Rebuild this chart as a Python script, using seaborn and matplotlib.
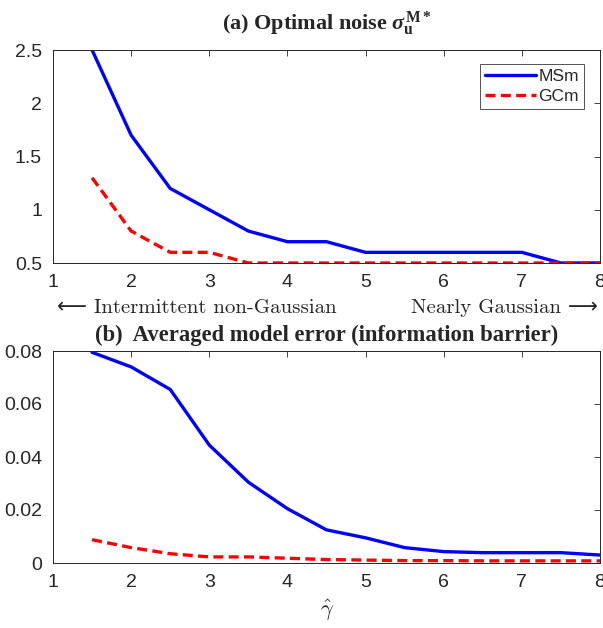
import numpy as np
import pandas as pd
import matplotlib
matplotlib.use("Agg")
import matplotlib.pyplot as plt
import seaborn as sns

gamma = [1.5, 2, 2.5, 3, 3.5, 4, 4.5, 5, 5.5, 6, 6.5, 7, 7.5, 8]
noise_msm = [2.5, 1.7, 1.2, 1.0, 0.8, 0.7, 0.7, 0.6, 0.6, 0.6, 0.6, 0.6, 0.5, 0.5]
noise_gcm = [1.3, 0.8, 0.6, 0.6, 0.5, 0.5, 0.5, 0.5, 0.5, 0.5, 0.5, 0.5, 0.5, 0.5]
err_msm = [0.0795, 0.074, 0.0655, 0.0445, 0.0305, 0.0205, 0.0125, 0.0095,
           0.0058, 0.0043, 0.0039, 0.0039, 0.0039, 0.003]
err_gcm = [0.0088, 0.0058, 0.0035, 0.0023, 0.0023, 0.0018, 0.0013, 0.0011,
           0.0009, 0.0009, 0.0008, 0.0008, 0.0008, 0.0008]
xticks = [1, 2, 3, 4, 5, 6, 7, 8]
yticks_a = [0.5, 1, 1.5, 2, 2.5]
yticks_b = [0, 0.02, 0.04, 0.06, 0.08]

sns.set_style("white")
plt.rcParams['font.family'] = ['Liberation Sans', 'DejaVu Sans']
plt.rcParams['mathtext.fontset'] = 'custom'
plt.rcParams['mathtext.rm'] = 'Liberation Serif:bold'
plt.rcParams['mathtext.bf'] = 'Liberation Serif:bold'
plt.rcParams['mathtext.it'] = 'Liberation Serif:italic:bold'

W, H = 603, 628
fig = plt.figure(figsize=(W / 100, H / 100), dpi=100)
L, R = 53, 600
ax1 = fig.add_axes([L / W, 1 - 263 / H, (R - L) / W, 213 / H])
ax2 = fig.add_axes([L / W, 1 - 563 / H, (R - L) / W, 212 / H])

df_a = pd.DataFrame({
    "gamma": gamma * 2,
    "value": noise_msm + noise_gcm,
    "model": ["MSm"] * len(gamma) + ["GCm"] * len(gamma),
})
df_b = pd.DataFrame({
    "gamma": gamma * 2,
    "value": err_msm + err_gcm,
    "model": ["MSm"] * len(gamma) + ["GCm"] * len(gamma),
})
pal = {"MSm": "#0000ff", "GCm": "#ff0000"}
dashes = {"MSm": "", "GCm": (3, 1.6)}

for ax, df, yt, ylim in [(ax1, df_a, yticks_a, (0.5, 2.5)), (ax2, df_b, yticks_b, (0, 0.08))]:
    sns.lineplot(data=df, x="gamma", y="value", hue="model", style="model",
                 palette=pal, dashes=dashes, linewidth=2.4, ax=ax,
                 legend=(ax is ax1))
    ax.set_xlim(1, 8)
    ax.set_ylim(*ylim)
    ax.set_xticks(xticks)
    ax.set_xticklabels([str(v) for v in xticks])
    ax.set_yticks(yt)
    ax.set_yticklabels([("%g" % v) for v in yt])
    ax.tick_params(direction='in', top=True, right=True, length=4, width=0.6,
                   labelsize=14, colors='#262626', pad=8)
    for s in ax.spines.values():
        s.set_color('#262626')
        s.set_linewidth(0.7)
    ax.set_xlabel("")
    ax.set_ylabel("")

leg = ax1.legend(loc='upper right', bbox_to_anchor=(0.971, 0.934), fontsize=12.5,
                 frameon=True, fancybox=False, edgecolor='#262626',
                 handlelength=2.9, handletextpad=0.15, borderpad=0.3,
                 labelspacing=0.25, borderaxespad=0)
leg.get_frame().set_linewidth(0.7)
for line in leg.get_lines():
    line.set_linewidth(2.4)

fig.text((L + R) / 2 / W, 1 - 30 / H,
         r"(a) Optimal noise $\sigma_{\mathbf{u}}^{\mathbf{M*}}$",
         fontsize=16, fontweight='bold', family='Liberation Serif',
         ha='center', va='baseline')
fig.text((L + R) / 2 / W, 1 - 341 / H,
         "(b)  Averaged model error (information barrier)",
         fontsize=16.3, fontweight='bold', family='Liberation Serif',
         ha='center', va='baseline')

fig.text(57 / W, 1 - 308 / H, "\u27f5 Intermittent non-Gaussian", fontsize=15,
         family=['cmr10', 'DejaVu Sans'], ha='left', va='center', color='#262626')
fig.text(598 / W, 1 - 308 / H, "Nearly Gaussian \u27f6", fontsize=15,
         family=['cmr10', 'DejaVu Sans'], ha='right', va='center', color='#262626')

ax2.set_xlabel(r"$\hat{\gamma}$", fontsize=16, labelpad=5)
ax2.xaxis.label.set_math_fontfamily('cm')
ax2.xaxis.label.set_color('#262626')

fig.savefig("out.png", dpi=100)
